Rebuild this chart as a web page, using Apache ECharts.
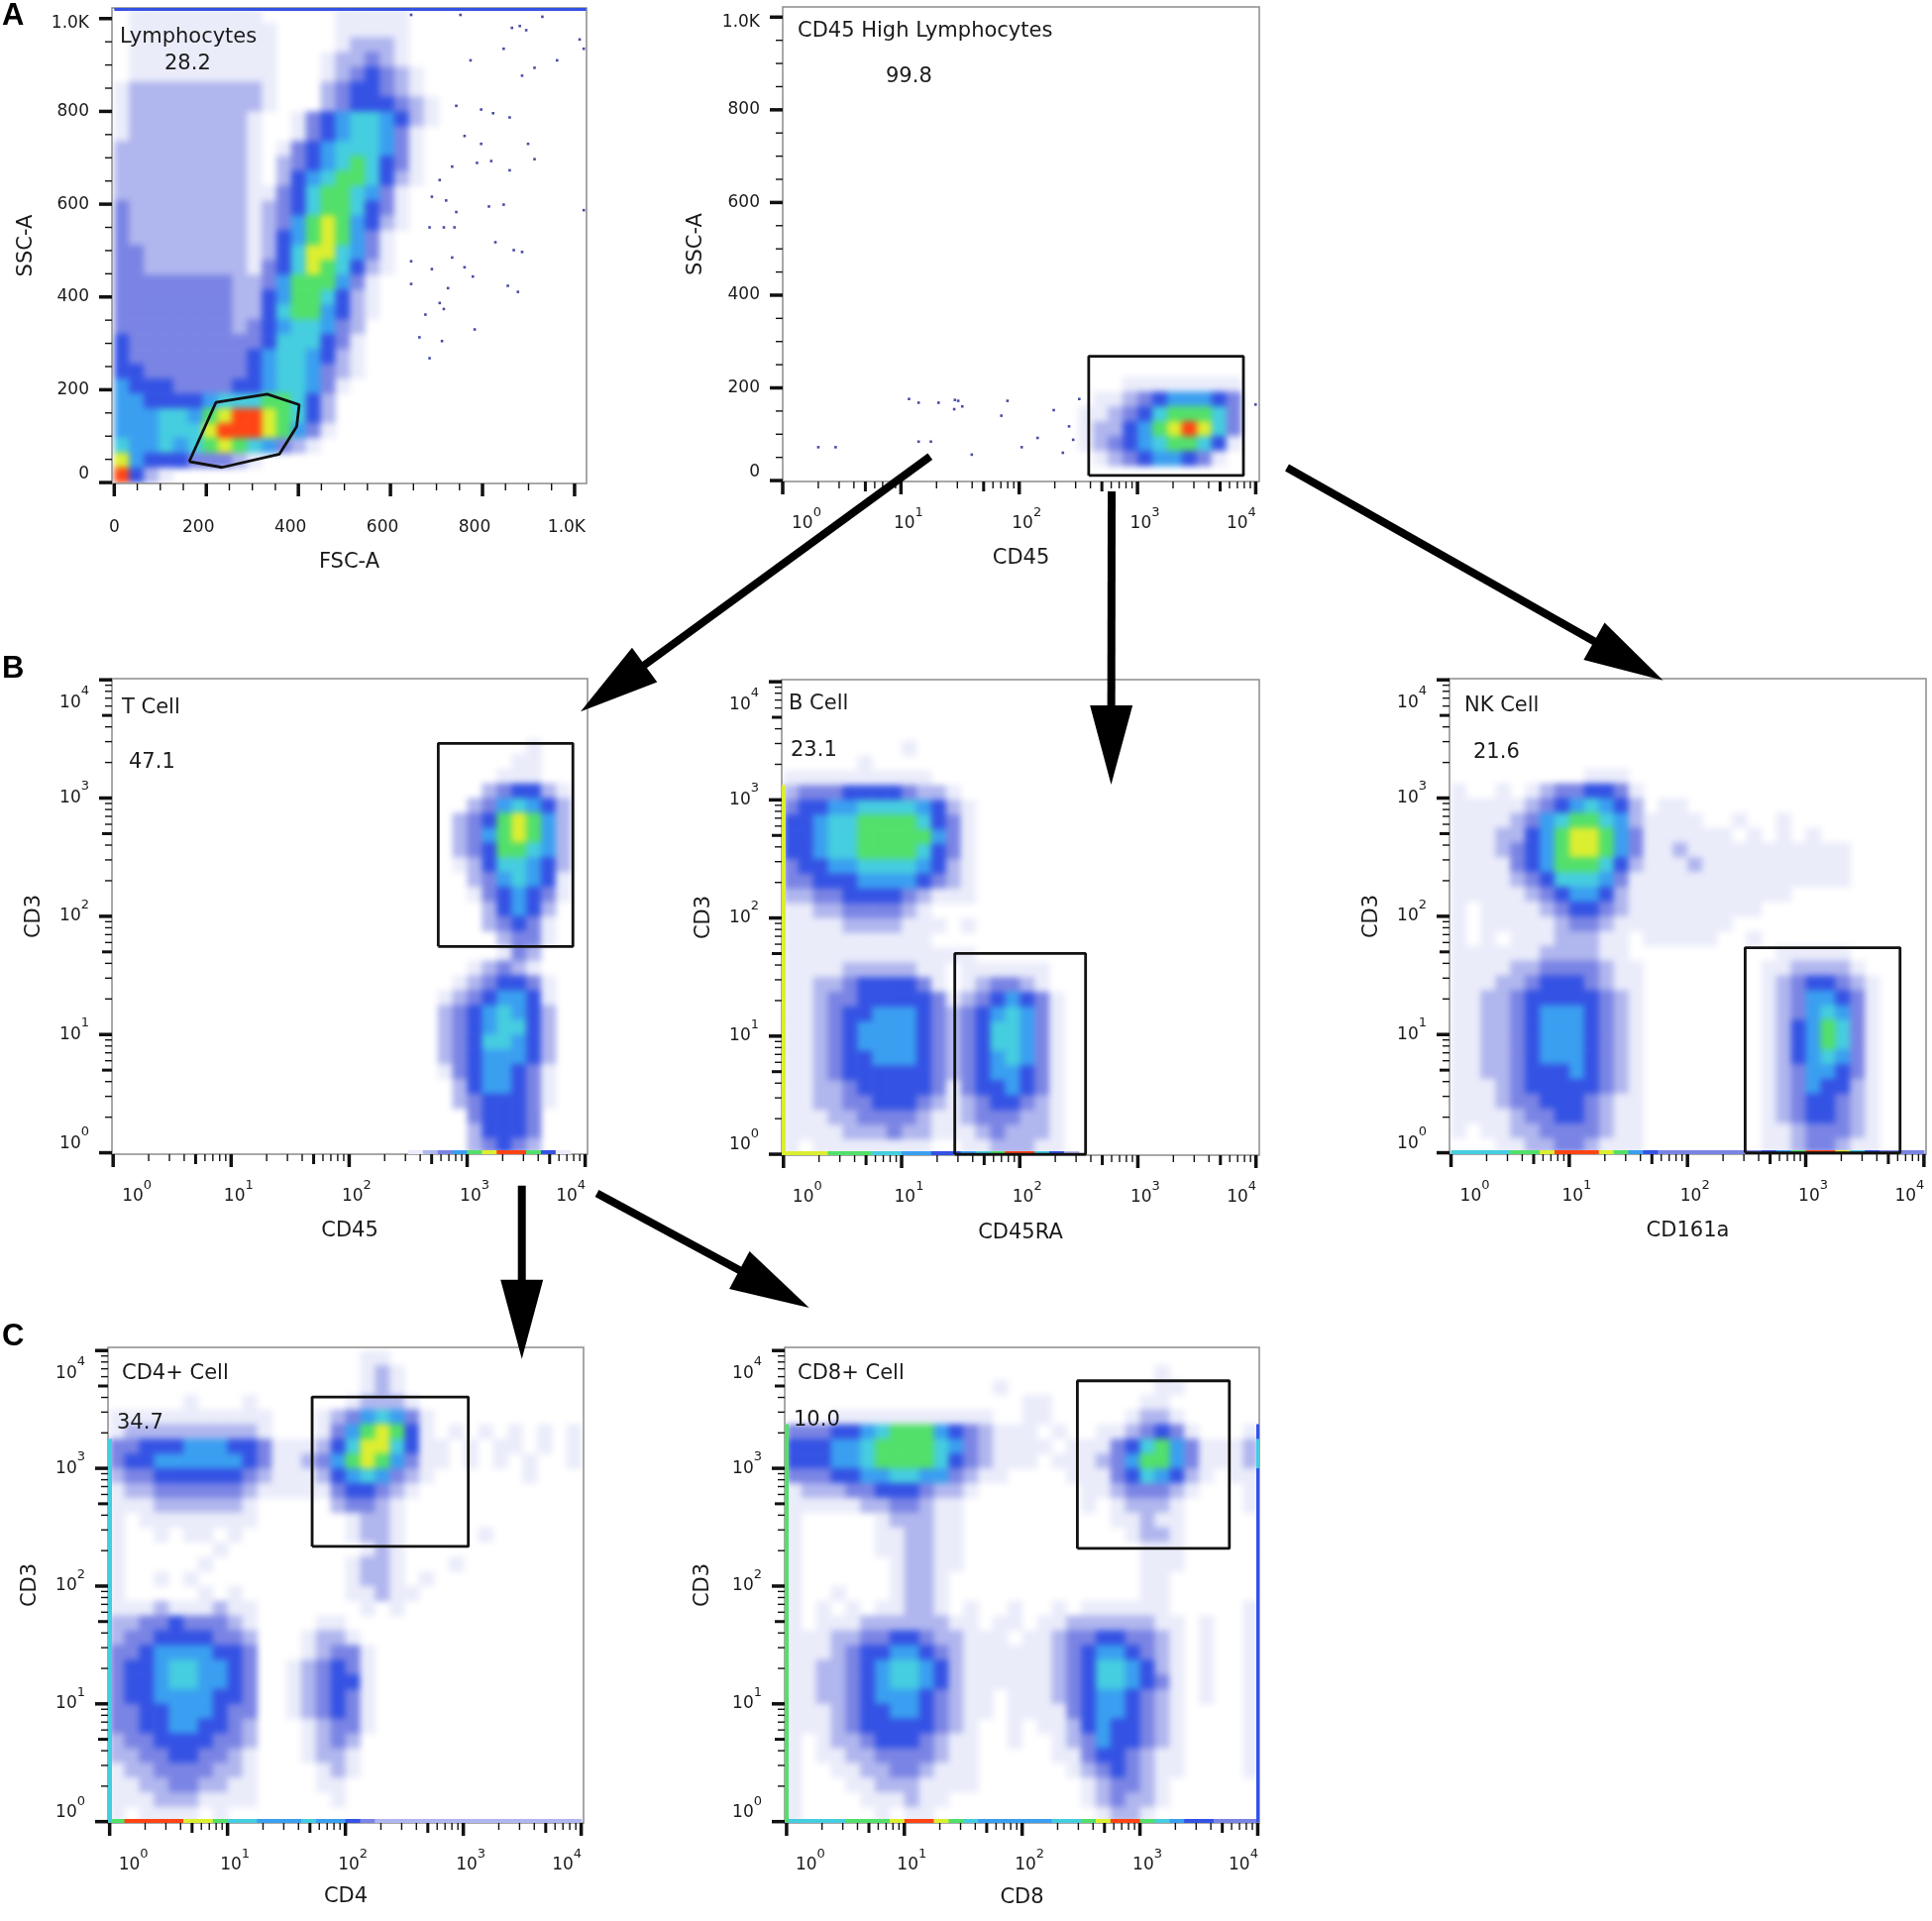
<!DOCTYPE html>
<html>
<head>
<meta charset="utf-8">
<title>Flow cytometry gating strategy</title>
<script src="https://cdn.jsdelivr.net/npm/echarts@6.0.0/dist/echarts.min.js"></script>
<style>
html,body{margin:0;padding:0;background:#ffffff;}
#wrap{position:relative;width:1950px;height:1939px;}
#density{position:absolute;left:0;top:0;width:1950px;height:1939px;filter:blur(3.4px);}
#chart{position:absolute;left:0;top:0;width:1950px;height:1939px;}
</style>
</head>
<body>
<div id="wrap"><div id="density"></div><div id="chart"></div></div>
<script>
// ================= DATA =================
const panelIds = ['A1','A2','B1','B2','B3','C1','C2'];
const xAxisTitles = ['FSC-A','CD45','CD45','CD45RA','CD161a','CD4','CD8'];
const yAxisTitles = ['SSC-A','SSC-A','CD3','CD3','CD3','CD3','CD3'];
const gateNames = ['Lymphocytes','CD45 High Lymphocytes','T Cell','B Cell','NK Cell','CD4+ Cell','CD8+ Cell'];
const gateFrequencies = ['28.2','99.8','47.1','23.1','21.6','34.7','10.0'];
const panelLetters = ['A','B','C'];

const linearTicks = [0,200,400,600,800,1000];
const linearTickLabels = ['0','200','400','600','800','1.0K'];
const linearMinorTicks = [50,100,150,250,300,350,450,500,550,650,700,750,850,900,950];
const logDecades = [0,1,2,3,4];
const logTickExponents = ['0','1','2','3','4'];
const logMinorMultipliers = [2,3,4,5,6,7,8,9];

// Pseudocolour density: 32 x 32 cells per panel,
// rows top->bottom, "startColumn:levels" runs, level 1 (sparse) .. 9 (peak).
const densityA1 = [
"1:111111111 15:11111","1:1111111111 15:11111","1:1111111111 15:12221","1:1111111111 14:122321",
"1:1111111111 14:1234321","0:12222222221 14:2344321","0:12222222221 14:23444321","0:1222222221 12:1345665421",
"0:1222222221 12:134566531","0:2222222221 11:1345666531","0:2222222221 11:2345676431","0:2222222221 11:2456776421",
"0:22222222211346776531","0:32222222212346776431","0:32222222212357875421","0:3222222221245787531",
"0:3322222221246886531","0:3322222221346876421","0:333333332235777531","0:333333332245776421",
"0:333333332246775421","0:33333333234566532","0:43333333334666431","0:43333333345665421",
"0:44333333345665321","0:5444333344566531","0:554444566677642","0:555665789987642",
"0:555666899987531","0:65565678765321","0:8544433321","0:9421"];
const densityA2 = [
"","","","","","","","","","","","","","","","","","","","","","","","","",
"23:11111111","21:1123455543","20:11234677763","20:12245789863","20:12345677641","21:123455431",""];
const densityB1 = [
"","","","","28:1","27:11","26:111","25:234421","24:2356542","23:23478752","23:23578752","23:23477652",
"23:12466542","24:2356541","24:1345431","25:24542","25:23431","26:2331","26:132","24:12321",
"23:1234431","22:12345541","22:23456542","22:23456642","22:23466542","22:23455542","22:13455431",
"23:2455431","23:2344431","24:34443","24:24443","24:23432"];
const densityB2 = [
"","","","","8:1","5:1","0:1111111111","0:233344443221","0:3445566665421","0:4456677776431",
"0:4456677777531","0:4456677776431","0:3445566665421","0:3344455554321","0:2233444432111","0:1122333321",
"0:11112222111 12:1","0:1111111111","0:1111111111111","0:11112222211 12:111111","0:11223444431 12:123321",
"0:1123344444312345431","0:1123445554323456531","0:1123455554323466531","0:1123455554323466531",
"0:1123445554323456531","0:1123444444323455431","0:1122344444313445431","0:1122334443212344321",
"0:1112233332112333221","0:1111222322111232221","0:1 2:11111111 12:1122211"];
const densityB3 = [
"","","","","","","9:111","0:1 3:1 5:12334431","0:1111123456542 14:11","0:11112356776521111 19:1 22:1",
"0:1112245788753111111 20:1 22:1 24:1","0:111234578875311211111111111","0:111134577764211121111111111",
"0:111123466653111111111111111","0:11111234554211111111111","0:1 2:1111234432111111111",
"0:1 2:11111233211111111","0:1 2:1 4:11122211 13:11111 20:1","0:111111222211 22:11111",
"0:1111223333211 21:1122221","0:1112234443211 21:12344321","0:1122344444321 21:12355431",
"0:1122345554321 21:12356531","0:1122345554321 21:12457631","0:1122345554321 21:12457631",
"0:1122345554321 21:12456531","0:1122344454321 21:12355431","0:1112344444321 21:12354421",
"0:1112334443211 21:12344321","0:1111233443211 21:12344321","0:1 2:11223333211 21:11233321",
"3:1122332111 21:11233211"];
const densityC1 = [
"17:11","17:121","17:121","5:1 9:1 16:12221","0:11111111111 14:12356531",
"0:12222222221 14:13578741 23:1 25:1 27:1 29:1 31:1","0:33444555443111246886411 24:1 26:11 29:1 31:1",
"0:34455555543112357875311 24:1 26:1 28:1 31:1","0:2334444443211124565321 28:1","0:122333333211111344321",
"0:1112222221 15:23321","0:1 2:11111111 16:1221","0:1 3:1 5:11 8:1 16:1221 25:1","0:1 7:1 17:121",
"0:1 6:1 16:1221 23:1","0:1 3:1 5:1 16:1221 21:1","0:1 6:1 8:1 16:11211","0:1112111211 17:1 19:1",
"0:2233433321 14:11","0:2334444332 13:1221","0:3345555443 13:12331","0:3445665543 12:123431",
"0:3445665543 12:123441","0:3445555443 12:123431","0:3344555433 12:123431","0:3344554432 13:12331",
"0:2334444332 13:1232","0:2233443321 13:1221","0:1223333221 14:121","0:1122332211 14:11",
"0:1112221111 15:1","0:1 2:1111 7:1"];
const densityC2 = [
"","25:1","14:1 25:11","16:11 24:11","3:11111111111 16:11 23:1221",
"0:33344567775432111 18:1 21:11 23:23431 31:1","0:444556777765321111 19:1113467531112",
"0:44455677776432111 18:11123577531112","0:333445566553211 19:1113465421 30:11",
"0:1222334443221 20:11233321 31:1","0:111112233211 20:1 22:12221 31:1","0:1 6:122211 22:11211",
"0:1 6:112211 23:1221","0:1 6:112211 24:111","0:1 7:12211 24:111","0:1 7:1221 24:11","0:1 3:1 7:1221 24:11",
"0:1 2:1 4:1 6:11221 12:1 15:1 18:1 20:111111 31:1","0:1 2:11122222211 14:11 17:1122222211 28:1 31:1",
"0:111223344322111 16:11233443321 28:1 31:1","0:111234455432111111234554321 28:1 31:1",
"0:112234566542111111234665421 28:1 31:1","0:112234566542111111234665431 28:1 31:1",
"0:11223455543211 15:111234554321 28:1 31:1","0:11123445543211 15:111134554321 31:1",
"0:1112344444321 15:1 17:1124544321 31:1","0:1 2:12234443211 15:1 18:123544321 31:1",
"0:1 2:11223333211 18:113443211 31:1","0:1 3:1122332111 19:12343211 31:1","0:1 4:112221111 20:123321",
"0:1 5:111211 20:123221","0:1 6:1 8:11 21:1221"];

// events piled up on the plot edges (per column / per row)
const edgeA1Top = "0:44444444444444444444444444444444";
const edgeB1Bottom = "20:12357899741";
const edgeB2Bottom = "0:88877766554456799642";
const edgeB2Left = "7:8888888888888888888888888";
const edgeB3Bottom = "0:66667789998754333333345799864333";
const edgeC1Bottom = "0:7999988766555655432 19:2222222222222";
const edgeC1Left = "6:66666666666666666666666666";
const edgeC2Bottom = "0:66667778998765555566789976544333";
const edgeC2Left = "5:777777777777777777777777777";
const edgeC2Right = "5:466444444444444444444444444";

// isolated events
const sparseA1FSC = [645,752,864,881,895,930,1011,1020,774,846,913,962,886,743,797,823,859,761,797,899,734,788,819,913,859,707,690,721,743,814,846,1020,685,716,739,828,868,886,734,761,690,779,855,877,725,707,716,663,685,712,783,645,645,676];
const sparseA1SSC = [1008,1008,980,984,975,1004,955,935,910,935,894,910,877,812,804,796,787,747,730,730,681,689,693,697,673,652,616,608,583,595,599,587,550,550,550,518,501,497,485,464,460,444,424,411,419,387,374,313,268,305,330,428,477,362];
const sparseA2CD45 = [11.7,14.1,20.8,28.6,30.5,33.0,28.2,79.6,70.6,196,322,2.0,2.8,14.1,17.9,39.7,105,143,264,286,234,9977];
const sparseA2SSC = [176,168,168,174,172,160,154,172,140,152,176,72,72,84,84,56,72,92,117,88,60,164];

// gates
const gateA1FSC = [162.8,234,358.9,396.4,401.8,332.3,220.8];
const gateA1SSC = [45,32.7,61.3,121,167.7,190.6,172.6];
const gateA2CD45 = [387,7870],   gateA2SSC = [11,268];
const gateB1CD45 = [569,7870],   gateB1CD3 = [55.6,2904];
const gateB2CD45RA = [28.2,361], gateB2CD3 = [1,50.1];
const gateB3CD161a = [307.6,6281], gateB3CD3 = [1,54.3];
const gateC1CD4 = [52.2,1102],   gateC1CD3 = [217,4036];
const gateC2CD8 = [294.4,5741],  gateC2CD3 = [208.9,5534];

// ================= LAYOUT / STYLE =================
const FONT = 'DejaVu Sans';
const TXT = '#1a1a1a';
const LEVEL_COLORS = ['', '#eaecfa', '#b0b6ee', '#7a84e4', '#3452e4', '#3a9ff0', '#45cde0', '#52e06a', '#dcee30', '#ff4414'];
const panels = [
  {grid:[113,8,479,480],   xType:'lin', yType:'lin', xRange:[-5,1026],      yRange:[-2,1023],      xGap:69, yGap:76, labelPos:[121,27],   freqPos:[166,54]},
  {grid:[790,7,481,479],   xType:'log', yType:'lin', xRange:[0,4.03],       yRange:[-2,1022],      xGap:67, yGap:77, labelPos:[805,21],   freqPos:[894,67]},
  {grid:[113,685,480,480], xType:'log', yType:'log', xRange:[-0.01,4.02],   yRange:[-0.012,4.01],  xGap:67, yGap:68, labelPos:[123,704],  freqPos:[130,759]},
  {grid:[789,686,482,480], xType:'log', yType:'log', xRange:[-0.015,4.028], yRange:[-0.008,4.018], xGap:68, yGap:68, labelPos:[796,700],  freqPos:[798,747]},
  {grid:[1463,685,481,480],xType:'log', yType:'log', xRange:[-0.013,4.018], yRange:[-0.012,4.01],  xGap:67, yGap:68, labelPos:[1478,702], freqPos:[1487,749]},
  {grid:[109,1360,480,480],xType:'log', yType:'log', xRange:[-0.014,4.02],  yRange:[-0.011,4.027], xGap:64, yGap:68, labelPos:[123,1376], freqPos:[118,1426]},
  {grid:[792,1360,479,480],xType:'log', yType:'log', xRange:[-0.016,4.013], yRange:[-0.011,4.027], xGap:65, yGap:72, labelPos:[805,1376], freqPos:[801,1423]}
];
const letterPos = [[2,1],[2,660],[2,1334]];
const arrows = [
  {from:[938.8,460.7], to:[586,718.3]},
  {from:[1122,496], to:[1121.5,792]},
  {from:[1299,472], to:[1678.6,686.7]},
  {from:[526.7,1196.7], to:[526.7,1371.7]},
  {from:[602.5,1204.5], to:[816.7,1320]}
];
const ARROW_HEAD_LEN = 80, ARROW_HALF = 21.5, ARROW_SHAFT = 8;
const TICK_LEN = [13,10,7], TICK_W = [3.5,3,1.4];

const densityGrids = [densityA1,densityA2,densityB1,densityB2,densityB3,densityC1,densityC2];
const edgeSets = [
  {top:edgeA1Top}, {}, {bottom:edgeB1Bottom}, {bottom:edgeB2Bottom,left:edgeB2Left},
  {bottom:edgeB3Bottom}, {bottom:edgeC1Bottom,left:edgeC1Left},
  {bottom:edgeC2Bottom,left:edgeC2Left,right:edgeC2Right}
];

// ================= HELPERS =================
function parseRuns(s){
  const out = [];
  if (!s) return out;
  s.trim().split(/\s+/).forEach(seg => {
    const k = seg.indexOf(':');
    let c = parseInt(seg.slice(0,k),10);
    for (const ch of seg.slice(k+1)) { if (ch !== '.' && c < 32) out.push([c, ch.charCodeAt(0)-48]); c++; }
  });
  return out;
}
const L10 = Math.log10;

const RICH = {
  t:{fontFamily:FONT,fontSize:17,lineHeight:20,color:TXT},
  b:{fontFamily:FONT,fontSize:17,lineHeight:36,color:TXT},
  s:{fontFamily:FONT,fontSize:13,lineHeight:14,verticalAlign:'top',color:TXT},
  g:{width:15,fontSize:10}, g0:{width:48,fontSize:10}, g4:{width:29,fontSize:10}, gl:{width:16,fontSize:10},
  e0:{fontSize:10,lineHeight:18}, e4:{fontSize:10,lineHeight:46}, el0:{fontSize:10,lineHeight:16}, elk:{fontSize:10,lineHeight:10}
};
function fmtLogX(v){ const e = logTickExponents[logDecades.indexOf(v)];
  if (v===0) return '{g0| }{b|10}{s|'+e+'}';
  if (v===4) return '{b|10}{s|'+e+'}{g4| }';
  return '{g| }{b|10}{s|'+e+'}'; }
function fmtLogY(v){ const e = logTickExponents[logDecades.indexOf(v)];
  if (v===0) return '{b|10}{s|'+e+'}\n{e0| }';
  if (v===4) return '{e4| }\n{b|10}{s|'+e+'}';
  return '{b|10}{s|'+e+'}'; }
function fmtLinX(v){ const l = linearTickLabels[linearTicks.indexOf(v)];
  return v===0 ? '{t|'+l+'}' : '{t|'+l+'}{gl| }'; }
function fmtLinY(v){ const l = linearTickLabels[linearTicks.indexOf(v)];
  if (v===0) return '{t|'+l+'}\n{el0| }';
  if (v===1000) return '{elk| }\n{t|'+l+'}';
  return '{t|'+l+'}'; }

function makeAxis(i, dim, p, visible){
  const type = dim==='x' ? p.xType : p.yType;
  const range = dim==='x' ? p.xRange : p.yRange;
  const isLog = type==='log';
  const ax = {
    gridIndex:i, type:'value', min:range[0], max:range[1],
    axisLine:{show:false}, axisTick:{show:false}, splitLine:{show:false}, minorTick:{show:false}
  };
  if (!visible) { ax.axisLabel = {show:false}; return ax; }
  ax.axisLabel = {
    show:true, customValues: isLog ? logDecades : linearTicks,
    formatter: dim==='x' ? (isLog ? fmtLogX : fmtLinX) : (isLog ? fmtLogY : fmtLinY),
    margin: dim==='x' ? (isLog ? 25 : 35) : 23,
    rich: RICH, color:TXT, fontFamily:FONT, fontSize:17
  };
  ax.name = dim==='x' ? xAxisTitles[i] : yAxisTitles[i];
  ax.nameLocation = 'middle';
  ax.nameGap = dim==='x' ? p.xGap : p.yGap;
  ax.nameMoveOverlap = false;
  ax.nameTextStyle = {fontFamily:FONT, fontSize:21, color:TXT};
  return ax;
}
function cellSpec(p){
  return {dx: p.xType==='lin' ? 32 : 0.125, y0: p.yType==='lin' ? 1024 : 4, dy: p.yType==='lin' ? 32 : 0.125};
}
function gridsOption(showBorder){
  return panels.map(p => ({left:p.grid[0], top:p.grid[1], width:p.grid[2], height:p.grid[3], show:showBorder,
    borderColor:'#8c8c8c', borderWidth:1.5, backgroundColor:'rgba(0,0,0,0)', containLabel:false, outerBoundsMode:'none'}));
}

// ---------- density layer (smoothed) ----------
const densitySeries = [];
panels.forEach((p, i) => {
  const spec = cellSpec(p);
  const cells = [];
  densityGrids[i].forEach((row, r) => parseRuns(row).forEach(([c, lv]) => cells.push([c, r, lv])));
  densitySeries.push({
    type:'custom', xAxisIndex:i, yAxisIndex:i, silent:true, clip:false, z:1, data:cells,
    renderItem:function(params, api){
      const c = api.value(0), r = api.value(1), lv = api.value(2);
      const x0 = c*spec.dx, yT = spec.y0 - r*spec.dy;
      const p0 = api.coord([x0, yT]), p1 = api.coord([x0+spec.dx, yT-spec.dy]);
      const cs = params.coordSys;
      const sh = echarts.graphic.clipRectByRect(
        {x:p0[0], y:p0[1], width:p1[0]-p0[0]+0.6, height:p1[1]-p0[1]+0.6},
        {x:cs.x, y:cs.y, width:cs.width, height:cs.height});
      if (!sh) return null;
      return {type:'rect', shape:sh, style:{fill:LEVEL_COLORS[lv]}};
    }
  });
});

// ---------- main layer ----------
const series = [];
panels.forEach((p, i) => {
  const spec = cellSpec(p);
  const edges = [];
  ['bottom','left','top','right'].forEach((sd, k) => { if (edgeSets[i][sd]) parseRuns(edgeSets[i][sd]).forEach(([idx, lv]) => edges.push([idx, lv, k])); });
  if (edges.length) series.push({
    type:'custom', xAxisIndex:i, yAxisIndex:i, silent:true, clip:false, z:2, data:edges,
    renderItem:function(params, api){
      const idx = api.value(0), lv = api.value(1), side = api.value(2);
      const cs = params.coordSys;
      let shape;
      if (side===0 || side===2) {
        const xa = api.coord([idx*spec.dx, p.yRange[0]])[0], xb = api.coord([(idx+1)*spec.dx, p.yRange[0]])[0];
        const th = side===0 ? 4 : 3;
        shape = {x:xa, y: side===0 ? cs.y+cs.height-th : cs.y, width:xb-xa+0.6, height:th};
      } else {
        const ya = api.coord([p.xRange[0], spec.y0 - idx*spec.dy])[1], yb = api.coord([p.xRange[0], spec.y0-(idx+1)*spec.dy])[1];
        const th = side===1 ? 4 : 3;
        shape = {x: side===1 ? cs.x : cs.x+cs.width-th, y:ya, width:th, height:yb-ya+0.6};
      }
      const sh = echarts.graphic.clipRectByRect(shape, {x:cs.x, y:cs.y, width:cs.width, height:cs.height});
      if (!sh) return null;
      return {type:'rect', shape:sh, style:{fill:LEVEL_COLORS[lv]}};
    }
  });
  const ticks = [];
  [[p.xType, 0], [p.yType, 1]].forEach(([t, code]) => {
    if (t==='lin') { linearTicks.forEach(v => ticks.push([v,0,code])); linearMinorTicks.forEach(v => ticks.push([v,2,code])); }
    else { logDecades.forEach(v => ticks.push([v,0,code]));
      for (let k=0;k<4;k++) logMinorMultipliers.forEach(m => ticks.push([k+L10(m), m===5?1:2, code])); }
  });
  series.push({
    type:'custom', xAxisIndex:i, yAxisIndex:i, silent:true, clip:false, z:6, data:ticks,
    renderItem:function(params, api){
      const v = api.value(0), kind = api.value(1), code = api.value(2);
      const cs = params.coordSys, len = TICK_LEN[kind], w = TICK_W[kind];
      if (code===0) {
        const x = api.coord([v, p.yRange[0]])[0], y0 = cs.y+cs.height;
        return {type:'line', shape:{x1:x,y1:y0,x2:x,y2:y0+len}, style:{stroke:'#111',lineWidth:w}};
      }
      const y = api.coord([p.xRange[0], v])[1];
      return {type:'line', shape:{x1:cs.x,y1:y,x2:cs.x-len,y2:y}, style:{stroke:'#111',lineWidth:w}};
    }
  });
});

function rectGate(xs, ys, xLog, yLog){
  const x0 = xLog?L10(xs[0]):xs[0], x1 = xLog?L10(xs[1]):xs[1];
  const y0 = yLog?L10(ys[0]):ys[0], y1 = yLog?L10(ys[1]):ys[1];
  return [[x0,y0],[x1,y0],[x1,y1],[x0,y1],[x0,y0]];
}
const gatePaths = [
  gateA1FSC.map((v,k)=>[v, gateA1SSC[k]]).concat([[gateA1FSC[0], gateA1SSC[0]]]),
  rectGate(gateA2CD45, gateA2SSC, true, false),
  rectGate(gateB1CD45, gateB1CD3, true, true),
  rectGate(gateB2CD45RA, gateB2CD3, true, true),
  rectGate(gateB3CD161a, gateB3CD3, true, true),
  rectGate(gateC1CD4, gateC1CD3, true, true),
  rectGate(gateC2CD8, gateC2CD3, true, true)
];
gatePaths.forEach((path, i) => series.push({
  type:'line', xAxisIndex:i, yAxisIndex:i, data:path, symbol:'none', silent:true, clip:false, z:5,
  lineStyle:{color:'#111', width:2.8}, animation:false
}));

series.push({type:'scatter', xAxisIndex:0, yAxisIndex:0, symbol:'rect', symbolSize:2.6, silent:true, z:3,
  itemStyle:{color:'#1c2190'}, data: sparseA1FSC.map((v,k)=>[v, sparseA1SSC[k]])});
series.push({type:'scatter', xAxisIndex:1, yAxisIndex:1, symbol:'rect', symbolSize:2.6, silent:true, z:3,
  itemStyle:{color:'#1c2190'}, data: sparseA2CD45.map((v,k)=>[L10(v), sparseA2SSC[k]])});

const graphics = [];
panels.forEach((p, i) => {
  graphics.push({type:'text', x:p.labelPos[0], y:p.labelPos[1], z:50, silent:true,
    style:{text:gateNames[i], font:'21px "DejaVu Sans"', fill:TXT, align:'left', verticalAlign:'top', textAlign:'left', textVerticalAlign:'top'}});
  graphics.push({type:'text', x:p.freqPos[0], y:p.freqPos[1], z:50, silent:true,
    style:{text:gateFrequencies[i], font:'21px "DejaVu Sans"', fill:TXT, align:'left', verticalAlign:'top', textAlign:'left', textVerticalAlign:'top'}});
});
panelLetters.forEach((l, k) => graphics.push({type:'text', x:letterPos[k][0], y:letterPos[k][1], z:50, silent:true,
  style:{text:l, font:'bold 31px "Liberation Sans"', fill:'#000', align:'left', verticalAlign:'top', textAlign:'left', textVerticalAlign:'top'}}));
arrows.forEach(a => {
  const [x0,y0] = a.from, [x1,y1] = a.to;
  const L = Math.hypot(x1-x0, y1-y0), ux = (x1-x0)/L, uy = (y1-y0)/L, nx = -uy, ny = ux;
  const bx = x1-ux*ARROW_HEAD_LEN, by = y1-uy*ARROW_HEAD_LEN;
  graphics.push({type:'line', z:60, silent:true, shape:{x1:x0,y1:y0,x2:bx+ux*3,y2:by+uy*3}, style:{stroke:'#000', lineWidth:ARROW_SHAFT}});
  graphics.push({type:'polygon', z:60, silent:true, shape:{points:[[x1,y1],[bx+nx*ARROW_HALF,by+ny*ARROW_HALF],[bx-nx*ARROW_HALF,by-ny*ARROW_HALF]]}, style:{fill:'#000'}});
});

// clip the smoothed density layer to the plot rectangles
const densityDiv = document.getElementById('density');
densityDiv.style.clipPath = "path('" + panels.map(p => {
  const [l,t,w,h] = p.grid; return 'M'+l+' '+t+' H'+(l+w)+' V'+(t+h)+' H'+l+' Z';
}).join(' ') + "')";

const densityChart = echarts.init(densityDiv, null, {renderer:'canvas', width:1950, height:1939});
densityChart.setOption({
  backgroundColor:'#ffffff', animation:false,
  grid: gridsOption(false),
  xAxis: panels.map((p,i) => makeAxis(i,'x',p,false)),
  yAxis: panels.map((p,i) => makeAxis(i,'y',p,false)),
  series: densitySeries
});

const chart = echarts.init(document.getElementById('chart'), null, {renderer:'canvas', width:1950, height:1939});
chart.setOption({
  backgroundColor:'transparent', animation:false,
  grid: gridsOption(true),
  xAxis: panels.map((p,i) => makeAxis(i,'x',p,true)),
  yAxis: panels.map((p,i) => makeAxis(i,'y',p,true)),
  series: series,
  graphic: {elements: graphics}
});
</script>
</body>
</html>
